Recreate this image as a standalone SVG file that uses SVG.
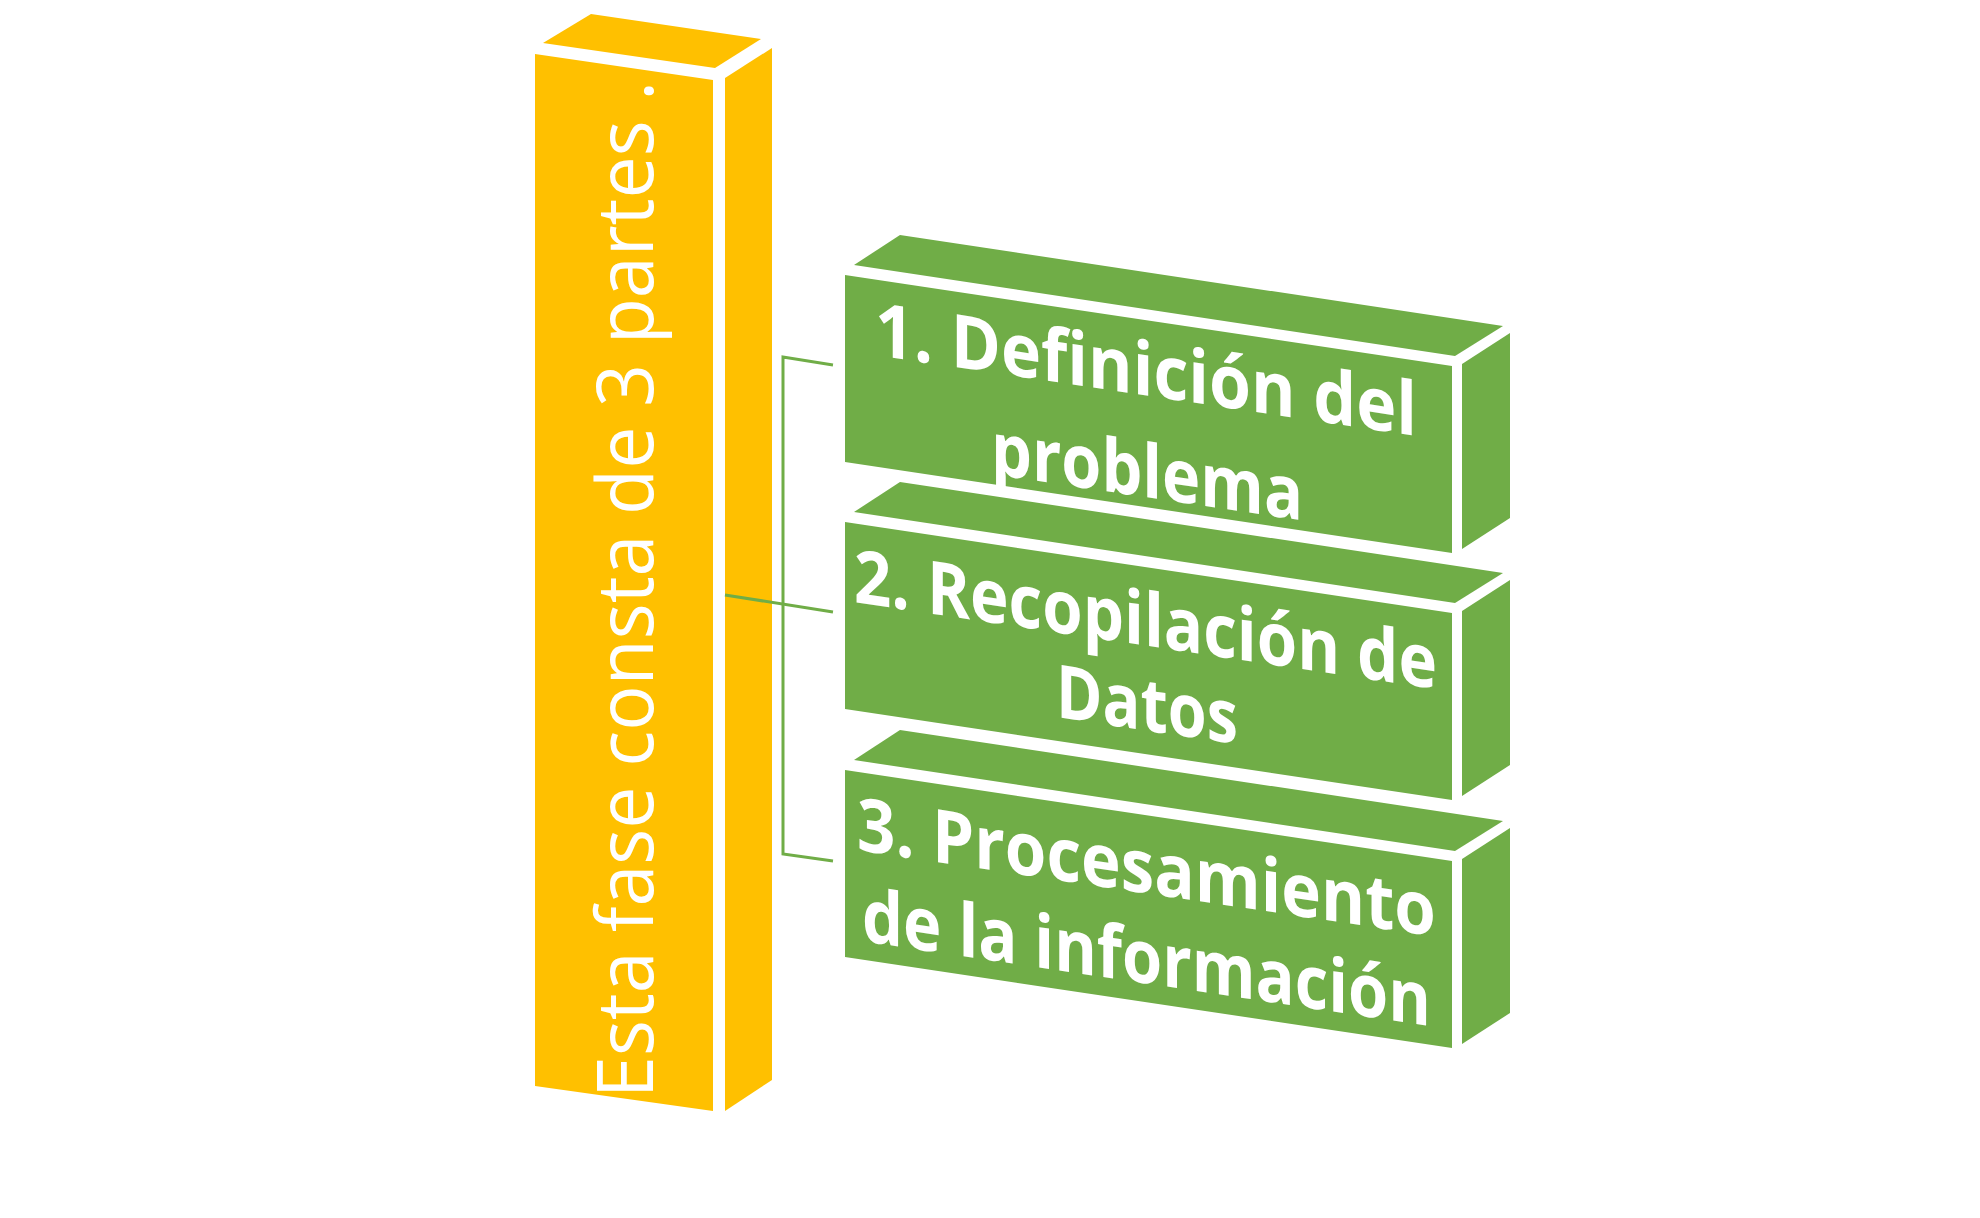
<svg xmlns="http://www.w3.org/2000/svg" width="1980" height="1218" viewBox="0 0 1980 1218">
<style>
.y{fill:#FFC000}.g{fill:#70AD47}
.t{fill:#fff;font-family:"Open Sans","Liberation Sans",sans-serif;font-weight:bold;font-size:74px}
.c{fill:none;stroke:#70AD47;stroke-width:3}
</style>
<rect width="1980" height="1218" fill="#fff"/>
<g id="fase">
<polygon class="y" points="543,43 591,14 761,39 715,68"/>
<polygon class="y" points="535,54 713,80 713,1111 535,1086"/>
<polygon class="y" points="725,78 772,48 772,1080 725,1111"/>
<text transform="translate(653,1098) rotate(-90)" fill="#fff" font-family="'Open Sans','Liberation Sans',sans-serif" font-size="78" textLength="1017" lengthAdjust="spacingAndGlyphs">Esta fase consta de 3 partes .</text>
</g>
<g id="connectors">
<line class="c" x1="725" y1="595" x2="833" y2="612"/>
<polyline class="c" points="833,365 783,357 783,854 833,861"/>
</g>
<g id="p1">
<polygon class="g" points="854,265 900,235 1503,326 1455,356"/>
<polygon class="g" points="845,275 1452,366 1452,553 845,462"/>
<polygon class="g" points="1462,364 1510,333 1510,518 1462,549"/>
<text class="t" transform="translate(875,355) skewY(8.5)" textLength="542" lengthAdjust="spacingAndGlyphs">1.  Definición del</text>
<text class="t" transform="translate(991,474) skewY(8.5)" textLength="312" lengthAdjust="spacingAndGlyphs">problema</text>
</g>
<g id="p2">
<polygon class="g" points="854,512 900,482 1503,573 1455,603"/>
<polygon class="g" points="845,522 1452,613 1452,800 845,709"/>
<polygon class="g" points="1462,611 1510,580 1510,765 1462,796"/>
<text class="t" transform="translate(854,602) skewY(8.5)" textLength="583" lengthAdjust="spacingAndGlyphs">2. Recopilación de</text>
<text class="t" transform="translate(1056,717) skewY(8.5)" textLength="182" lengthAdjust="spacingAndGlyphs">Datos</text>
</g>
<g id="p3">
<polygon class="g" points="854,760 900,730 1503,821 1455,851"/>
<polygon class="g" points="845,770 1452,861 1452,1048 845,957"/>
<polygon class="g" points="1462,859 1510,828 1510,1013 1462,1044"/>
<text class="t" transform="translate(857,850) skewY(8.5)" textLength="579" lengthAdjust="spacingAndGlyphs">3.  Procesamiento</text>
<text class="t" transform="translate(862,941) skewY(8.5)" textLength="569" lengthAdjust="spacingAndGlyphs">de la información</text>
</g>
</svg>
